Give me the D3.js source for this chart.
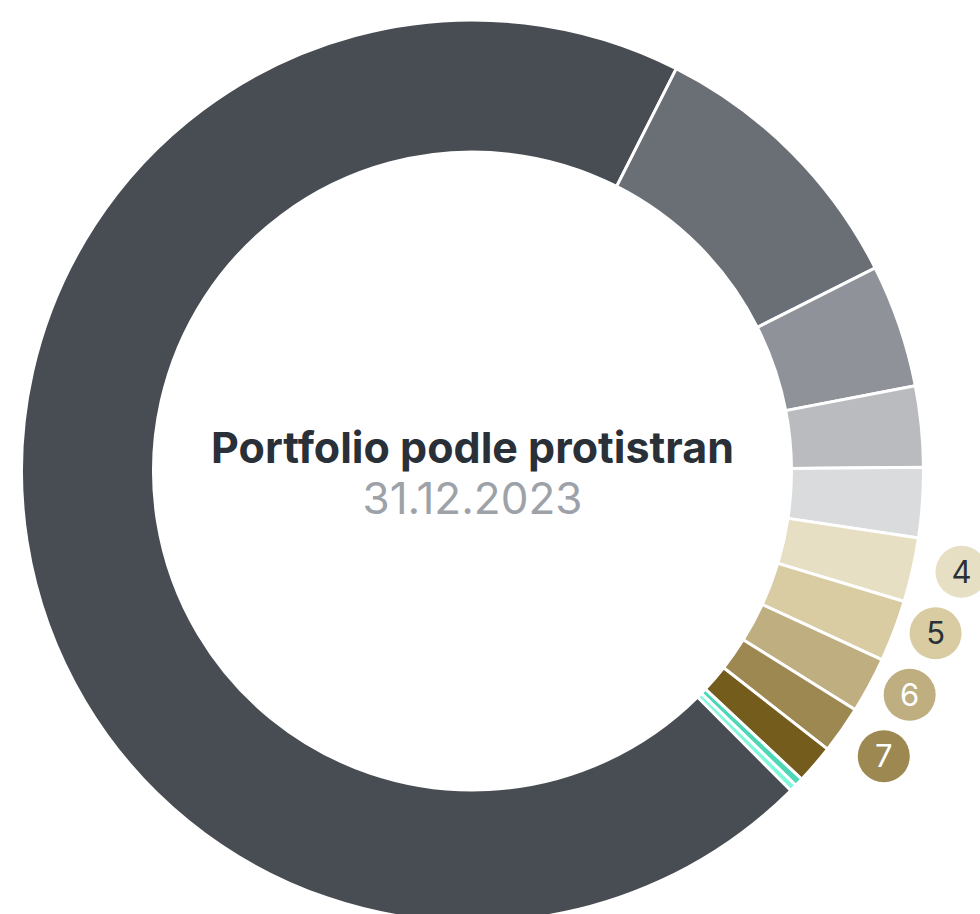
<!DOCTYPE html>
<html>
<head>
    <meta charset="utf-8">
    <title>Portfolio podle protistran</title>
    <script src="https://cdn.jsdelivr.net/npm/d3@7"></script>
    <style>
        html, body {
            margin: 0;
            background-color: #fff;
            font-family: Inter, "Noto Sans", sans-serif;
        }
        svg .slice {
            stroke: #fff;
            stroke-width: 3;
        }
        svg .title {
            text-anchor: middle;
            font-size: 43px;
            font-weight: 700;
            fill: #2a3038;
        }
        svg .subtitle {
            text-anchor: middle;
            font-size: 44px;
            fill: #9da2a8;
        }
        svg .badge text {
            text-anchor: middle;
            font-size: 31px;
        }
    </style>
</head>
<body>
    <svg></svg>

    <script>
        // counterparties, share of portfolio in %
        var shares = [69.9, 10.1, 4.4, 2.9, 2.5, 2.3, 2.2, 2.0, 1.7, 1.4, 0.3, 0.25];
        var colors = ['#484c53', '#6a6f75', '#8f9399', '#b9bbbf', '#d9dbdc',
                      '#e7dfc3', '#d9cca3', '#beae80', '#9c8850', '#745c1d',
                      '#4fd6b6', '#7ff7dd'];
        var badges = [null, null, null, null, null, '4', '5', '6', '7', null, null, null];
        var badgeText = [null, null, null, null, null, '#2a3038', '#2a3038', '#fff', '#fff', null, null, null];

        var title = 'Portfolio podle protistran',
            date = '31.12.2023';

        (function () {
            var w = 980,
                h = 914,
                cx = 472.5,
                cy = 471,
                rOuter = 451,
                rInner = 319,
                start = 135.1 * Math.PI / 180;

            var svg = d3.select('svg')
                    .attr('width', w)
                    .attr('height', h)
                    .attr('viewBox', '0 0 ' + w + ' ' + h);

            var g = svg.append('g')
                    .attr('transform', 'translate(' + cx + ',' + cy + ')');

            var pie = d3.pie()
                    .sort(null)
                    .startAngle(start)
                    .endAngle(start + 2 * Math.PI);

            var arc = d3.arc()
                    .innerRadius(rInner)
                    .outerRadius(rOuter);

            var arcs = pie(shares);

            g.selectAll('path.slice')
                .data(arcs)
                .enter().append('path')
                .attr('class', 'slice')
                .attr('d', arc)
                .style('fill', function (d, i) { return colors[i]; });

            // numbered badges: natural spot next to each slice, then spread
            // evenly along the line through them so they don't overlap
            var badgeR = 495,
                shift = 1 * Math.PI / 180,
                gap = 66.7;

            var marked = arcs.filter(function (d, i) { return badges[i]; });
            var pts = marked.map(function (d) {
                var a = (d.startAngle + d.endAngle) / 2 - shift;
                return [badgeR * Math.sin(a), -badgeR * Math.cos(a)];
            });
            var n = pts.length,
                mx = d3.mean(pts, function (p) { return p[0]; }),
                my = d3.mean(pts, function (p) { return p[1]; }),
                vx = pts[n - 1][0] - pts[0][0],
                vy = pts[n - 1][1] - pts[0][1],
                len = Math.sqrt(vx * vx + vy * vy);
            marked.forEach(function (d, i) {
                var k = (i - (n - 1) / 2) * gap;
                d.bx = mx + k * vx / len;
                d.by = my + k * vy / len;
            });

            var b = g.selectAll('g.badge')
                .data(marked)
                .enter().append('g')
                .attr('class', 'badge')
                .attr('transform', function (d) {
                    return 'translate(' + d.bx + ',' + d.by + ')';
                });

            b.append('circle')
                .attr('r', 26)
                .style('fill', function (d) { return colors[d.index]; });

            b.append('text')
                .attr('y', 11)
                .style('fill', function (d) { return badgeText[d.index]; })
                .text(function (d) { return badges[d.index]; });

            // centre caption
            g.append('text')
                .attr('class', 'title')
                .attr('y', -8)
                .text(title);

            g.append('text')
                .attr('class', 'subtitle')
                .attr('y', 43)
                .text(date);
        })();
    </script>
</body>
</html>
